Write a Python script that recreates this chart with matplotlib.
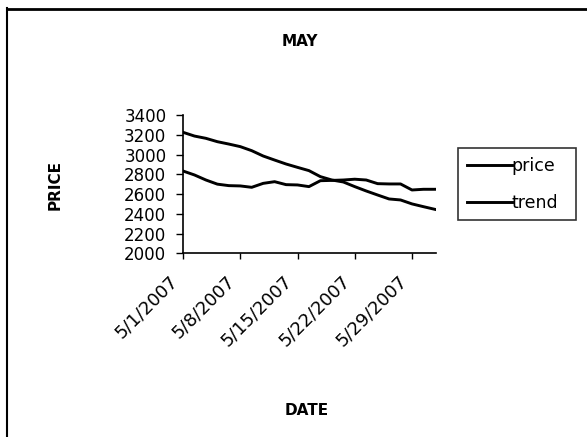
import numpy as np
import matplotlib.pyplot as plt
from matplotlib.lines import Line2D
from matplotlib.transforms import ScaledTranslation

# trading days in May 2007 (category axis)
dates = ["5/1/2007", "5/2/2007", "5/3/2007", "5/4/2007", "5/7/2007", "5/8/2007",
         "5/9/2007", "5/10/2007", "5/11/2007", "5/14/2007", "5/15/2007", "5/16/2007",
         "5/17/2007", "5/18/2007", "5/21/2007", "5/22/2007", "5/23/2007", "5/24/2007",
         "5/25/2007", "5/28/2007", "5/29/2007", "5/30/2007", "5/31/2007"]
price = [2833, 2793, 2742, 2700, 2685, 2682, 2668, 2708, 2725, 2695, 2692, 2675,
         2735, 2738, 2742, 2750, 2742, 2705, 2702, 2702, 2641, 2648, 2648]
trend = [3225, 3187, 3164, 3130, 3106, 3080, 3039, 2985, 2944, 2904, 2870, 2837,
         2776, 2742, 2722, 2675, 2631, 2590, 2550, 2540, 2500, 2472, 2445]
yticks = [2000, 2200, 2400, 2600, 2800, 3000, 3200, 3400]

x = np.arange(len(dates))

fig = plt.figure(figsize=(5.87, 4.37), dpi=100)
ax = fig.add_axes([0.3118, 0.4204, 0.431, 0.3164])

ax.plot(x, price, color='k', lw=2.1, label='price')
ax.plot(x, trend, color='k', lw=2.1, label='trend')

ax.set_xlim(0, 22.1)
ax.set_ylim(2000, 3400)
ax.set_yticks(yticks)
ax.set_yticklabels([str(v) for v in yticks], fontsize=12)
ax.set_xticks(x[::5])
ax.set_xticklabels(dates[::5], fontsize=13, rotation=45, ha='right',
                   va='center', rotation_mode='anchor')
ax.tick_params(axis='y', direction='out', length=5, width=1, pad=7)
ax.tick_params(axis='x', direction='out', length=4, width=1, pad=14)
for lab in ax.get_xticklabels():
    lab.set_transform(lab.get_transform() + ScaledTranslation(-0.08, 0, fig.dpi_scale_trans))

for s in ['top', 'right']:
    ax.spines[s].set_visible(False)
ax.spines['left'].set_linewidth(1.2)
ax.spines['bottom'].set_linewidth(1.2)

fig.text(0.511, 0.904, "MAY", fontsize=11, fontweight='bold', ha='center', va='center')
fig.text(0.094, 0.577, "PRICE", fontsize=11, fontweight='bold', rotation=90,
         ha='center', va='center')
fig.text(0.523, 0.06, "DATE", fontsize=11, fontweight='bold', ha='center', va='center')

leg = ax.legend(loc='upper left', bbox_to_anchor=(458 / 587, 1 - 222 / 437, 118 / 587, 74 / 437),
                bbox_transform=fig.transFigure, mode='expand', fontsize=12.5,
                frameon=True, fancybox=False, edgecolor='k', handlelength=2.6,
                handletextpad=0.0, borderaxespad=0, borderpad=0.5, labelspacing=1.1)
leg.get_frame().set_linewidth(1.2)

# chart area border (top and left visible)
fig.add_artist(Line2D([7 / 587, 1], [1 - 9 / 437, 1 - 9 / 437], transform=fig.transFigure,
                      color='k', lw=2))
fig.add_artist(Line2D([7 / 587, 7 / 587], [0, 1 - 8 / 437], transform=fig.transFigure,
                      color='k', lw=1.5))

fig.savefig("out.png", dpi=100)
